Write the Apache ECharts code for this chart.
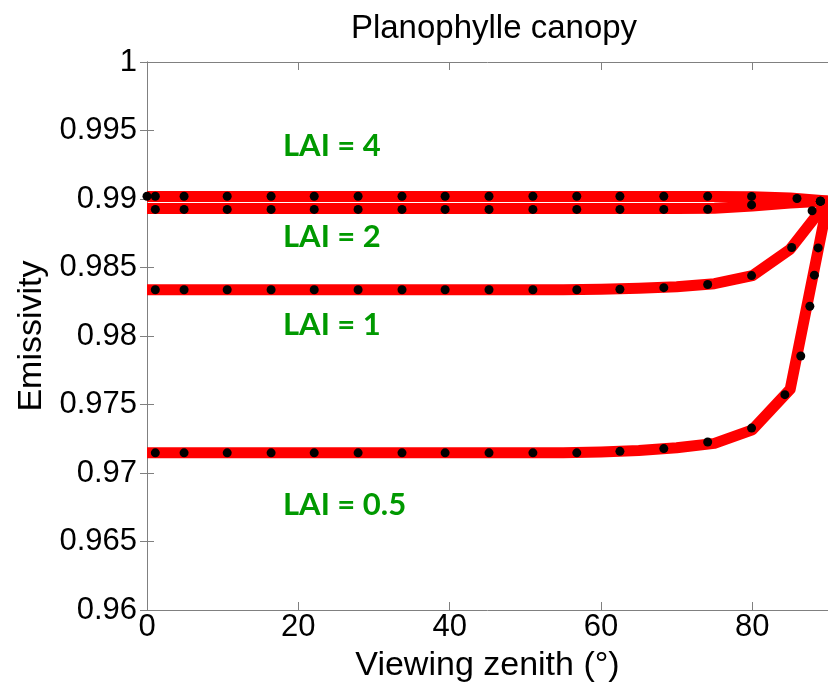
<!DOCTYPE html>
<html>
<head>
<meta charset="utf-8">
<script src="https://cdn.jsdelivr.net/npm/echarts@6/dist/echarts.min.js"></script>
<style>
html,body{margin:0;padding:0;background:#fff;}
#chart{width:828px;height:691px;}
</style>
</head>
<body>
<div id="chart"></div>
<script>
// ---- data ----
const titleText = 'Planophylle canopy';
const xName = 'Viewing zenith (°)';
const yName = 'Emissivity';
const xTicks = [0, 20, 40, 60, 80];
const yTickLabels = ['0.96','0.965','0.97','0.975','0.98','0.985','0.99','0.995','1'];
const seriesNames = ['LAI = 4', 'LAI = 2', 'LAI = 1', 'LAI = 0.5'];

// red model curves (every 5 degrees)
const lineX = [0,5,10,15,20,25,30,35,40,45,50,55,60,65,70,75,80,85,90];
const lineLAI4 = [0.99018,0.99018,0.99018,0.99018,0.99018,0.99018,0.99018,0.99018,0.99018,0.99018,0.99018,0.99018,0.99018,0.99018,0.99018,0.99018,0.99017,0.99008,0.98986];
const lineLAI2 = [0.98930,0.98930,0.98930,0.98930,0.98930,0.98930,0.98930,0.98930,0.98930,0.98930,0.98930,0.98930,0.98930,0.98930,0.98931,0.98933,0.98948,0.98970,0.98986];
const lineLAI1 = [0.98338,0.98338,0.98338,0.98338,0.98338,0.98338,0.98338,0.98338,0.98338,0.98338,0.98338,0.98338,0.98341,0.98349,0.98360,0.98382,0.98440,0.98634,0.98986];
const lineLAI05 = [0.97147,0.97147,0.97147,0.97147,0.97147,0.97147,0.97147,0.97147,0.97147,0.97147,0.97147,0.97147,0.97154,0.97165,0.97184,0.97216,0.97315,0.97611,0.98986];

// black reference points
const dotX4 = [0,1.1,4.9,10.6,16.4,22.1,27.9,33.7,39.4,45.2,51.0,56.8,62.5,68.3,74.1,79.9,85.9,89.0];
const dotY4 = [0.9902,0.9902,0.9902,0.9902,0.9902,0.9902,0.9902,0.9902,0.9902,0.9902,0.9902,0.9902,0.9902,0.9902,0.9902,0.99019,0.99004,0.98984];
const dotX2 = [1.1,4.9,10.6,16.4,22.1,27.9,33.7,39.4,45.2,51.0,56.8,62.5,68.3,74.1,79.9,89.0];
const dotY2 = [0.98924,0.98924,0.98924,0.98924,0.98924,0.98924,0.98924,0.98924,0.98924,0.98924,0.98924,0.98924,0.98924,0.98925,0.98957,0.98984];
const dotX1 = [1.1,4.9,10.6,16.4,22.1,27.9,33.7,39.4,45.2,51.0,56.8,62.5,68.3,74.1,79.9,85.2,87.9,89.0];
const dotY1 = [0.98338,0.98338,0.98338,0.98338,0.98338,0.98338,0.98338,0.98338,0.98338,0.98338,0.98338,0.98341,0.98353,0.98376,0.98441,0.98646,0.98914,0.98984];
const dotX05 = [1.1,4.9,10.6,16.4,22.1,27.9,33.7,39.4,45.2,51.0,56.8,62.5,68.3,74.1,79.9,84.3,86.4,87.6,88.2,88.7,89.0];
const dotY05 = [0.97147,0.97147,0.97147,0.97147,0.97147,0.97147,0.97147,0.97147,0.97147,0.97147,0.97147,0.97158,0.97178,0.97226,0.97328,0.97572,0.97854,0.98217,0.98444,0.98643,0.98984];

// ---- build ----
const zip = (xs, ys) => xs.map((x, i) => [x, ys[i]]);
const lines = [lineLAI4, lineLAI2, lineLAI1, lineLAI05];
const dots = [[dotX4, dotY4], [dotX2, dotY2], [dotX1, dotY1], [dotX05, dotY05]];

const axisColor = '#808080';
const fontFam = '"Liberation Sans", Arial, sans-serif';
const yLabelFmt = v => {
  const s = String(+v.toFixed(3));
  return yTickLabels.indexOf(s) >= 0 ? s : '';
};

const series = [];
lines.forEach((ys, i) => {
  series.push({
    name: seriesNames[i], type: 'line', data: zip(lineX, ys),
    showSymbol: false, symbol: 'none', clip: false,
    lineStyle: { color: '#ff0000', width: 11, join: 'round', opacity: 1 },
    z: 2, silent: true
  });
});
dots.forEach((d, i) => {
  series.push({
    name: seriesNames[i] + ' pts', type: 'scatter', data: zip(d[0], d[1]),
    symbol: 'circle', symbolSize: 9, clip: false,
    itemStyle: { color: '#000000', opacity: 1 }, z: 3, silent: true
  });
});

const labelStyle = (txt, x, y) => ({
  type: 'text', x: x, y: y, silent: true,
  style: { text: txt, fill: '#009900', font: 'bold 31px Lato, "Open Sans", sans-serif',
           textAlign: 'left', textVerticalAlign: 'middle' }
});

const chart = echarts.init(document.getElementById('chart'), null, { renderer: 'canvas' });
chart.setOption({
  animation: false,
  backgroundColor: '#ffffff',
  title: {
    text: titleText, left: 489, top: 7, textAlign: 'center',
    textStyle: { fontFamily: fontFam, fontSize: 33, fontWeight: 'normal', color: '#000' }
  },
  grid: { left: 147, top: 62, width: 684, height: 548, containLabel: false },
  xAxis: [{
    type: 'value', min: 0, max: 90, interval: 20, position: 'bottom',
    name: xName, nameLocation: 'middle', nameGap: 39,
    nameTextStyle: { fontFamily: fontFam, fontSize: 34, color: '#000', verticalAlign: 'top' },
    axisLine: { show: true, lineStyle: { color: axisColor, width: 1 } },
    axisTick: { show: true, inside: true, length: 8, lineStyle: { color: axisColor } },
    axisLabel: { show: true, margin: 2, fontFamily: fontFam, fontSize: 31, color: '#000',
      showMaxLabel: false, formatter: v => (xTicks.indexOf(v) >= 0 ? String(v) : '') },
    splitLine: { show: false }
  }, {
    type: 'value', min: 0, max: 90, interval: 20, position: 'top',
    axisLine: { show: true, lineStyle: { color: axisColor, width: 1 } },
    axisTick: { show: true, inside: true, length: 8, lineStyle: { color: axisColor } },
    axisLabel: { show: false }, splitLine: { show: false }
  }],
  yAxis: [{
    type: 'value', min: 0.96, max: 1, interval: 0.005, position: 'left',
    name: yName, nameLocation: 'middle', nameGap: 79, nameRotate: 90,
    nameTextStyle: { fontFamily: fontFam, fontSize: 34, color: '#000' },
    axisLine: { show: true, lineStyle: { color: axisColor, width: 1 } },
    axisTick: { show: true, inside: true, length: 7, lineStyle: { color: axisColor } },
    axisLabel: { show: true, margin: 10, fontFamily: fontFam, fontSize: 31, color: '#000', formatter: yLabelFmt },
    splitLine: { show: false }
  }, {
    type: 'value', min: 0.96, max: 1, interval: 0.005, position: 'right',
    axisLine: { show: true, lineStyle: { color: axisColor, width: 1 } },
    axisTick: { show: true, inside: true, length: 7, lineStyle: { color: axisColor } },
    axisLabel: { show: false }, splitLine: { show: false }
  }],
  series: series,
  graphic: [
    labelStyle(seriesNames[0], 283, 146),
    labelStyle(seriesNames[1], 283, 237),
    labelStyle(seriesNames[2], 283, 325),
    labelStyle(seriesNames[3], 283, 505)
  ]
});
</script>
</body>
</html>
